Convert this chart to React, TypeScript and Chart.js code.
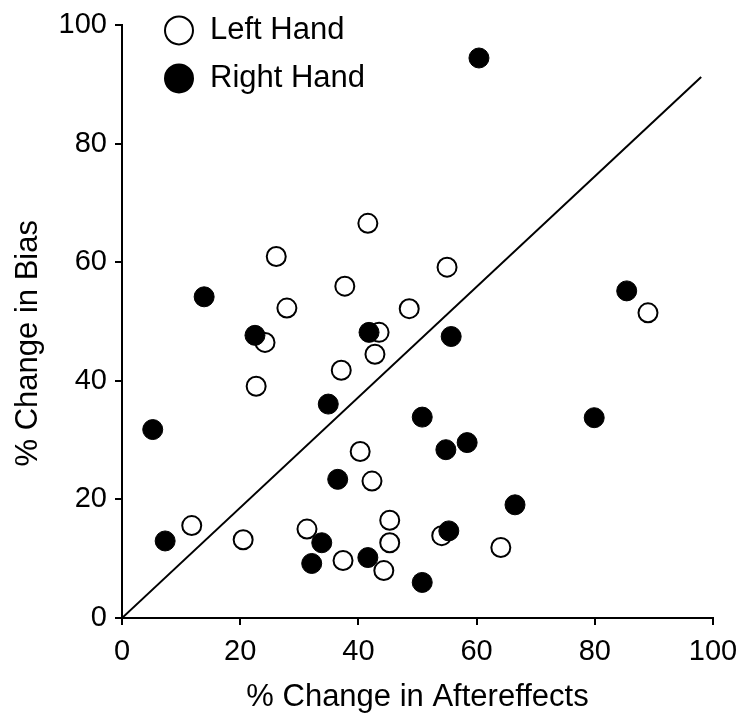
import React, { useEffect, useRef } from "react";
import { Chart, registerables } from "chart.js";

Chart.register(...registerables);

const leftHandX = [41.6, 26.1, 37.7, 27.9, 48.6, 43.5, 24.2, 42.8, 37.1, 22.7, 55.0, 89.0, 40.3, 42.3, 11.8, 20.5, 31.3, 37.4, 45.3, 45.3, 44.3, 54.1, 64.1];
const leftHandY = [66.6, 61.0, 56.0, 52.3, 52.2, 48.2, 46.5, 44.5, 41.8, 39.1, 59.2, 51.5, 28.1, 23.1, 15.6, 13.2, 15.0, 9.7, 16.5, 12.7, 8.0, 13.9, 11.9];

const rightHandX = [60.4, 5.2, 13.9, 22.5, 7.3, 34.9, 41.8, 36.5, 33.8, 32.1, 41.6, 55.7, 85.4, 50.8, 79.9, 54.8, 58.4, 66.5, 55.3, 50.8];
const rightHandY = [94.5, 31.8, 54.2, 47.7, 13.0, 36.1, 48.2, 23.4, 12.7, 9.2, 10.2, 47.5, 55.2, 33.9, 33.8, 28.4, 29.6, 19.1, 14.7, 6.0];

const fitLineX = [0, 98];
const fitLineY = [0, 91.3];

const axisTicks = [0, 20, 40, 60, 80, 100];

const seriesNames = ["Left Hand", "Right Hand"];
const xTitle = "% Change in Aftereffects";
const yTitle = "% Change in Bias";

const FONT = "'Liberation Sans', Arial, Helvetica, sans-serif";

const toPoints = (xs: number[], ys: number[]) => xs.map((x, i) => ({ x, y: ys[i] }));

const legendPlugin = {
  id: "insideLegend",
  afterDraw(chart: any) {
    const { ctx, chartArea } = chart;
    const items = [
      { text: seriesNames[0], fill: "#ffffff", cy: chartArea.top + 5 },
      { text: seriesNames[1], fill: "#000000", cy: chartArea.top + 53 },
    ];
    ctx.save();
    items.forEach((it) => {
      const cx = chartArea.left + 57;
      ctx.beginPath();
      ctx.arc(cx, it.cy, 14, 0, Math.PI * 2);
      ctx.fillStyle = it.fill;
      ctx.fill();
      ctx.lineWidth = 2;
      ctx.strokeStyle = "#000";
      ctx.stroke();
      ctx.fillStyle = "#000";
      ctx.font = `31px ${FONT}`;
      ctx.textBaseline = "middle";
      ctx.textAlign = "left";
      ctx.fillText(it.text, chartArea.left + 88, it.cy);
    });
    ctx.restore();
  },
};

export default function App() {
  const canvasRef = useRef<HTMLCanvasElement>(null);

  useEffect(() => {
    if (!canvasRef.current) return;
    Chart.defaults.font.family = FONT;
    const chart = new Chart(canvasRef.current, {
      type: "scatter",
      data: {
        datasets: [
          {
            label: "fit",
            type: "line",
            data: toPoints(fitLineX, fitLineY),
            borderColor: "#000",
            borderWidth: 2,
            pointRadius: 0,
            fill: false,
            order: 3,
          } as any,
          {
            label: seriesNames[0],
            data: toPoints(leftHandX, leftHandY),
            backgroundColor: "#ffffff",
            borderColor: "#000000",
            borderWidth: 2,
            pointRadius: 9.5,
            order: 2,
          },
          {
            label: seriesNames[1],
            data: toPoints(rightHandX, rightHandY),
            backgroundColor: "#000000",
            borderColor: "#000000",
            borderWidth: 1,
            pointRadius: 10,
            order: 1,
          },
        ],
      },
      options: {
        responsive: false,
        animation: false,
        layout: { padding: { top: 20, right: 35, left: 0, bottom: 0 } },
        plugins: {
          legend: { display: false },
          tooltip: { enabled: false },
        },
        scales: {
          x: {
            type: "linear",
            min: 0,
            max: 100,
            afterFit: (s: any) => {
              s.height = 101;
            },
            afterBuildTicks: (s: any) => {
              s.ticks = axisTicks.map((v) => ({ value: v }));
            },
            grid: { drawOnChartArea: false, drawTicks: true, tickLength: 7, color: "#000", lineWidth: 2 },
            border: { display: true, color: "#000", width: 2 },
            ticks: { color: "#000", font: { size: 29, family: FONT }, padding: 10, maxRotation: 0 },
            title: {
              display: true,
              text: xTitle,
              color: "#000",
              font: { size: 31, family: FONT },
              padding: { top: 0, bottom: 3 },
            },
          },
          y: {
            type: "linear",
            min: 0,
            max: 100,
            afterFit: (s: any) => {
              s.width = 122;
            },
            afterBuildTicks: (s: any) => {
              s.ticks = axisTicks.map((v) => ({ value: v }));
            },
            grid: { drawOnChartArea: false, drawTicks: true, tickLength: 7, color: "#000", lineWidth: 2 },
            border: { display: true, color: "#000", width: 2 },
            ticks: { color: "#000", font: { size: 29, family: FONT }, padding: 8 },
            title: {
              display: true,
              text: yTitle + "     ",
              color: "#000",
              font: { size: 31, family: FONT },
              padding: { top: 10, bottom: 0 },
            },
          },
        },
      },
      plugins: [legendPlugin],
    });
    return () => chart.destroy();
  }, []);

  return (
    <div style={{ position: "absolute", left: 0, top: 0, width: 748, height: 719, background: "#fff" }}>
      <canvas ref={canvasRef} width={748} height={719} />
    </div>
  );
}
